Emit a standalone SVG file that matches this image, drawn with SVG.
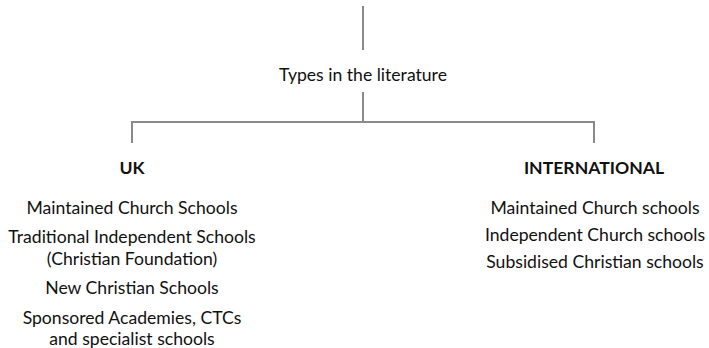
<svg xmlns="http://www.w3.org/2000/svg" width="709" height="348" viewBox="0 0 709 348">
<style>
text{font-family:Lato,"Open Sans",sans-serif;font-size:17.6px;fill:#111;text-anchor:middle}
.b{font-weight:bold}
.c{stroke:#8a8a8a;stroke-width:2;fill:none}
</style>
<rect width="709" height="348" fill="#fff"/>
<g id="connectors">
<path class="c" d="M363 6V50"/>
<path class="c" d="M363 92V122M132 143V122H594V143"/>
</g>
<g id="root"><text x="363" y="81">Types in the literature</text></g>
<g id="uk">
<text class="b" x="132" y="174">UK</text>
<text x="132" y="214">Maintained Church Schools</text>
<text x="132" y="243">Traditional Independent Schools</text>
<text x="132" y="265">(Christian Foundation)</text>
<text x="132" y="294">New Christian Schools</text>
<text x="132" y="324">Sponsored Academies, CTCs</text>
<text x="132" y="345">and specialist schools</text>
</g>
<g id="international">
<text class="b" x="594" y="174">INTERNATIONAL</text>
<text x="595" y="214">Maintained Church schools</text>
<text x="595" y="241">Independent Church schools</text>
<text x="595" y="268">Subsidised Christian schools</text>
</g>
</svg>
